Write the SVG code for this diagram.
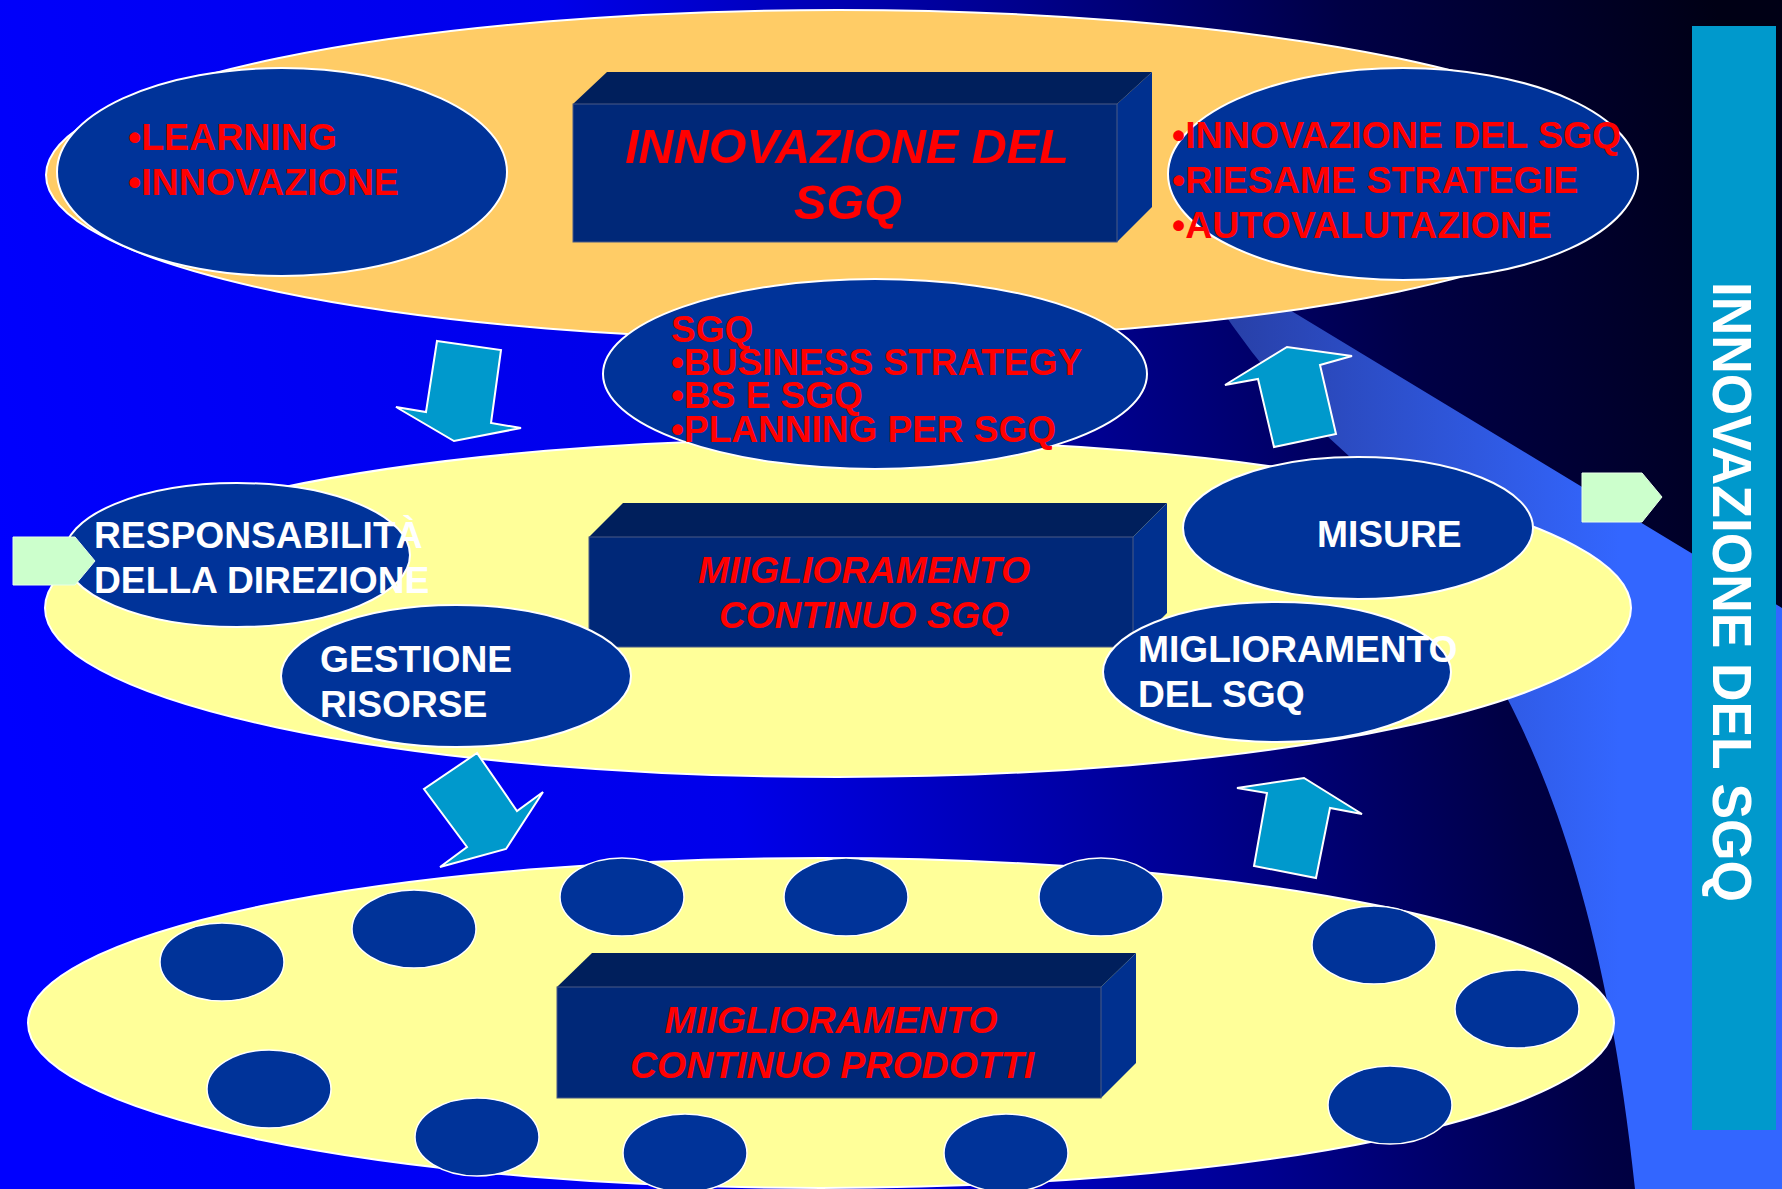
<svg xmlns="http://www.w3.org/2000/svg" width="1782" height="1189" viewBox="0 0 1782 1189">
<defs>
<linearGradient id="bg" x1="0" y1="700" x2="1782" y2="300" gradientUnits="userSpaceOnUse">
<stop offset="0" stop-color="#0000FF"/>
<stop offset="0.38" stop-color="#0000EA"/>
<stop offset="0.62" stop-color="#000090"/>
<stop offset="0.8" stop-color="#000045"/>
<stop offset="1" stop-color="#000015"/>
</linearGradient>
<linearGradient id="band" x1="1230" y1="0" x2="1620" y2="0" gradientUnits="userSpaceOnUse">
<stop offset="0" stop-color="#2840A8"/>
<stop offset="1" stop-color="#3366FF"/>
</linearGradient>
<style>
.big{stroke:#FFFFFF;stroke-width:2}
.node{fill:#003399;stroke:#FFFFFF;stroke-width:2}
.dot{fill:#003399;stroke:#FFFFFF;stroke-width:1.5}
.front{fill:#002878;stroke:#4A5A85;stroke-width:1}
.top{fill:#001F5C}
.side{fill:#00308F}
.arrow{fill:#0099CC;stroke:#FFFFFF;stroke-width:2;stroke-linejoin:miter}
.green{fill:#CCFFCC;stroke:#E8FFE8;stroke-width:1}
.red{fill:#FF0000;font-family:"Liberation Sans",Arial,sans-serif;font-weight:bold}
.redi{fill:#FF0000;font-family:"Liberation Sans",Arial,sans-serif;font-weight:bold;font-style:italic;text-anchor:middle}
.wht{fill:#FFFFFF;font-family:"Liberation Sans",Arial,sans-serif;font-weight:bold}
</style>
</defs>
<rect x="0" y="0" width="1782" height="1189" fill="url(#bg)"/>
<path id="band-shape" d="M1215,300 L1260,292 L1782,608 L1782,1189 L1635,1189 C1610,950 1560,800 1507,698 L1400,520 L1350,457 Q1285,400 1232,325 Z" fill="url(#band)"/>

<g id="level-innovazione">
<ellipse cx="838" cy="175" rx="792" ry="165" fill="#FFCC66" class="big"/>
</g>
<g id="level-miglioramento-sgq">
<ellipse cx="838" cy="608" rx="793" ry="169" fill="#FFFF99" class="big"/>
</g>
<g id="level-prodotti">
<ellipse cx="821" cy="1023" rx="793" ry="165" fill="#FFFF99" class="big"/>
</g>

<g id="node-learning">
<ellipse cx="282" cy="172" rx="225" ry="104" class="node"/>
<text class="red" font-size="37.5" x="128" y="150">•LEARNING</text>
<text class="red" font-size="37.5" x="128" y="195">•INNOVAZIONE</text>
</g>

<g id="box-innovazione">
<polygon class="top" points="573,104 607,72 1152,72 1117,104"/>
<polygon class="side" points="1117,104 1152,72 1152,207 1117,242"/>
<rect class="front" x="573" y="104" width="544" height="138"/>
<text class="redi" font-size="48.5" x="847" y="163">INNOVAZIONE DEL</text>
<text class="redi" font-size="48.5" x="848" y="219">SGQ</text>
</g>

<g id="node-riesame">
<ellipse cx="1403" cy="174" rx="235" ry="106" class="node"/>
<text class="red" font-size="37.5" x="1172" y="148">•INNOVAZIONE DEL SGQ</text>
<text class="red" font-size="37.5" x="1172" y="193">•RIESAME STRATEGIE</text>
<text class="red" font-size="37.5" x="1172" y="238">•AUTOVALUTAZIONE</text>
</g>

<g id="node-sgq">
<ellipse cx="875" cy="374" rx="272" ry="95" class="node"/>
<text class="red" font-size="37" x="671" y="342">SGQ</text>
<text class="red" font-size="37" x="671" y="375">•BUSINESS STRATEGY</text>
<text class="red" font-size="37" x="671" y="408">•BS E SGQ</text>
<text class="red" font-size="37" x="671" y="442">•PLANNING PER SGQ</text>
</g>

<g id="box-miglioramento-sgq">
<polygon class="top" points="589,537 623,503 1167,503 1133,537"/>
<polygon class="side" points="1133,537 1167,503 1167,613 1133,647"/>
<rect class="front" x="589" y="537" width="544" height="110"/>
<text class="redi" font-size="37" x="864" y="583" textLength="332" lengthAdjust="spacingAndGlyphs">MIIGLIORAMENTO</text>
<text class="redi" font-size="37" x="864" y="628">CONTINUO SGQ</text>
</g>

<g id="node-responsabilita">
<ellipse cx="237" cy="555" rx="173" ry="72" class="node"/>
<text class="wht" font-size="37.2" x="94" y="548">RESPONSABILITÀ</text>
<text class="wht" font-size="37.2" x="94" y="593">DELLA DIREZIONE</text>
</g>

<g id="node-gestione">
<ellipse cx="456" cy="676" rx="175" ry="71" class="node"/>
<text class="wht" font-size="37.2" x="320" y="672">GESTIONE</text>
<text class="wht" font-size="37.2" x="320" y="717">RISORSE</text>
</g>

<g id="node-misure">
<ellipse cx="1358" cy="528" rx="175" ry="71" class="node"/>
<text class="wht" font-size="37.2" x="1317" y="547">MISURE</text>
</g>

<g id="node-miglioramento-del-sgq">
<ellipse cx="1277" cy="672" rx="174" ry="70" class="node"/>
<text class="wht" font-size="37.2" x="1138" y="662">MIGLIORAMENTO</text>
<text class="wht" font-size="37.2" x="1138" y="707">DEL SGQ</text>
</g>

<g id="processes">
<ellipse cx="222" cy="962" rx="62" ry="39" class="dot"/>
<ellipse cx="414" cy="929" rx="62" ry="39" class="dot"/>
<ellipse cx="622" cy="897" rx="62" ry="39" class="dot"/>
<ellipse cx="846" cy="897" rx="62" ry="39" class="dot"/>
<ellipse cx="1101" cy="897" rx="62" ry="39" class="dot"/>
<ellipse cx="1374" cy="945" rx="62" ry="39" class="dot"/>
<ellipse cx="1517" cy="1009" rx="62" ry="39" class="dot"/>
<ellipse cx="1390" cy="1105" rx="62" ry="39" class="dot"/>
<ellipse cx="1006" cy="1153" rx="62" ry="39" class="dot"/>
<ellipse cx="685" cy="1153" rx="62" ry="39" class="dot"/>
<ellipse cx="477" cy="1137" rx="62" ry="39" class="dot"/>
<ellipse cx="269" cy="1089" rx="62" ry="39" class="dot"/>
</g>

<g id="box-prodotti">
<polygon class="top" points="557,987 592,953 1136,953 1101,987"/>
<polygon class="side" points="1101,987 1136,953 1136,1063 1101,1098"/>
<rect class="front" x="557" y="987" width="544" height="111"/>
<text class="redi" font-size="37.5" x="831" y="1033" textLength="333" lengthAdjust="spacingAndGlyphs">MIIGLIORAMENTO</text>
<text class="redi" font-size="37.5" x="832" y="1078">CONTINUO PRODOTTI</text>
</g>

<g id="sidebar">
<rect x="1692" y="26" width="84" height="1104" fill="#0099CC"/>
<text class="wht" font-size="56" transform="translate(1713,282) rotate(90)" x="0" y="0" textLength="620" lengthAdjust="spacingAndGlyphs">INNOVAZIONE DEL SGQ</text>
</g>

<g id="connectors">
<polygon class="arrow" points="437,341 501,350 491,423 521,428 454,441 396,407 426,412"/>
<polygon class="arrow" points="1274,447 1258,379 1225,385 1287,347 1352,356 1320,365 1336,434"/>
<polygon class="arrow" points="477,753 424,789 467,847 440,867 506,849 543,792 517,811"/>
<polygon class="arrow" points="1254,866 1267,793 1237,788 1304,778 1362,814 1330,808 1316,878"/>
<polygon class="green" points="13,537 75,537 95,561 75,585 13,585"/>
<polygon class="green" points="1582,473 1642,473 1662,497 1642,522 1582,522"/>
</g>
</svg>
